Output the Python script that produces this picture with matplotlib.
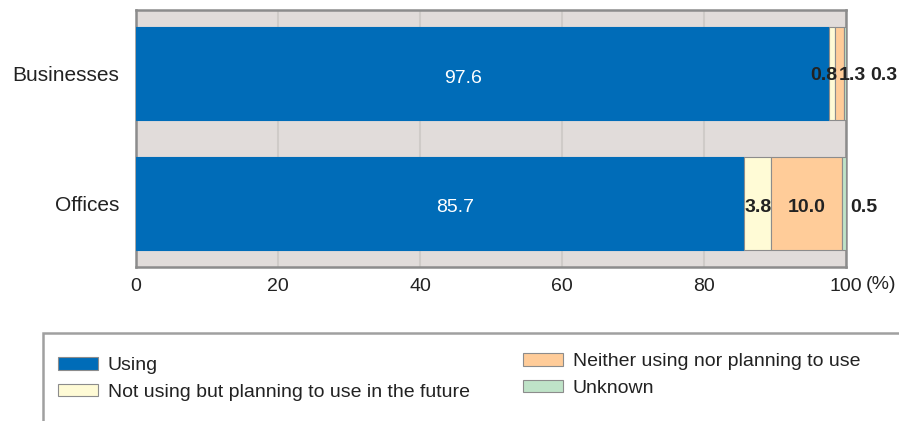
import matplotlib
matplotlib.use("Agg")
import matplotlib.pyplot as plt
from matplotlib.patches import Rectangle

plt.rcParams['font.family'] = ['Liberation Sans', 'DejaVu Sans']

categories = ["Businesses", "Offices"]
series_names = ["Using",
                "Not using but planning to use in the future",
                "Neither using nor planning to use",
                "Unknown"]
using = [97.6, 85.7]
planning = [0.8, 3.8]
neither = [1.3, 10.0]
unknown = [0.3, 0.5]
x_ticks = [0, 20, 40, 60, 80, 100]
x_tick_labels = ["0", "20", "40", "60", "80", "100"]

colors = ["#006cb8", "#fffbd6", "#ffcc99", "#bfe3c8"]
edge = "#8c8c8c"
dark = "#222222"

fig = plt.figure(figsize=(8.99, 4.21), dpi=100)
ax = fig.add_axes([136 / 899, 1 - 267 / 421, 710 / 899, 257 / 421])
ax.set_facecolor("#e1dcda")

ypos = [1, 0]
values = [using, planning, neither, unknown]
left = [0.0, 0.0]
containers = []
for i, (vals, col) in enumerate(zip(values, colors)):
    bc = ax.barh(ypos, vals, left=left, height=0.72, color=col,
                 edgecolor=edge if i > 0 else col, linewidth=0.8,
                 label=series_names[i], zorder=3)
    containers.append(bc)
    left = [l + v for l, v in zip(left, vals)]

bold = dict(fontsize=14, fontweight="bold", color=dark, zorder=4,
            va="center_baseline", annotation_clip=False,
            textcoords="offset points")

# "Using" values, white inside the blue bars
for y, v, dx in zip(ypos, using, [-13.7, 10.8]):
    ax.annotate(f"{v:.1f}", xy=(v / 2, y), xytext=(dx, -1.5),
                textcoords="offset points", ha="center",
                va="center_baseline", fontsize=14, color="white", zorder=4)

# Offices: labels centred in their segments
starts_off = [using[1], using[1] + planning[1]]
ax.annotate(f"{planning[1]:.1f}", xy=(starts_off[0] + planning[1] / 2, 0),
            xytext=(0, -1.5), ha="center", **bold)
ax.annotate(f"{neither[1]:.1f}", xy=(starts_off[1] + neither[1] / 2, 0),
            xytext=(0, -1.5), ha="center", **bold)
ax.annotate(f"{unknown[1]:.1f}", xy=(100, 0), xytext=(3, -1.5), ha="left",
            **bold)

# Businesses: narrow segments, labels set side by side
edge_b = using[0] + planning[0]
ax.annotate(f"{planning[0]:.1f}", xy=(edge_b, 1), xytext=(2.0, 0),
            ha="right", **bold)
ax.annotate(f"{neither[0]:.1f}", xy=(edge_b, 1), xytext=(3.0, 0),
            ha="left", **bold)
ax.annotate(f"{unknown[0]:.1f}", xy=(100, 1), xytext=(17.5, 0),
            ha="left", **bold)

ax.set_xlim(0, 100)
ax.set_ylim(-0.495, 1.495)
ax.set_yticks(ypos)
ax.set_yticklabels(categories, fontsize=15, color=dark)
ax.set_xticks(x_ticks)
ax.set_xticklabels(x_tick_labels, fontsize=14, color=dark)
ax.tick_params(axis="x", length=0, pad=8)
ax.tick_params(axis="y", length=0, pad=12)
ax.annotate("(%)", xy=(100, 0), xycoords=("data", "axes fraction"),
            xytext=(14.5, -6.8), textcoords="offset points", ha="left",
            va="top", fontsize=14, color=dark, annotation_clip=False)
ax.xaxis.grid(True, color="#cfcbc8", linewidth=1.5, zorder=1)
ax.set_axisbelow(True)
for s in ax.spines.values():
    s.set_color("#8c8c8c")
    s.set_linewidth(1.8)

# legend frame, running off the right and bottom edges
fig.patches.append(Rectangle((43 / 899, -0.1), 1.0, 1 - 333 / 421 + 0.1,
                             transform=fig.transFigure, fill=False,
                             edgecolor="#a0a0a0", linewidth=1.8))

handles = [c.patches[0] for c in containers]
leg_kw = dict(frameon=False, fontsize=14, handlelength=2.05, handleheight=0.62,
              handletextpad=0.5, labelspacing=0.5, borderpad=0,
              borderaxespad=0, labelcolor=dark)
leg1 = fig.legend(handles[:2], series_names[:2], loc="upper left",
                  bbox_to_anchor=(58 / 899, 1 - 357 / 421), **leg_kw)
leg2 = fig.legend(handles[2:], series_names[2:], loc="upper left",
                  bbox_to_anchor=(523 / 899, 1 - 353 / 421), **leg_kw)
for leg in (leg1, leg2):
    for h in leg.legend_handles:
        h.set_edgecolor("#8c8c8c")
        h.set_linewidth(0.8)

fig.savefig("out.png", dpi=100)
